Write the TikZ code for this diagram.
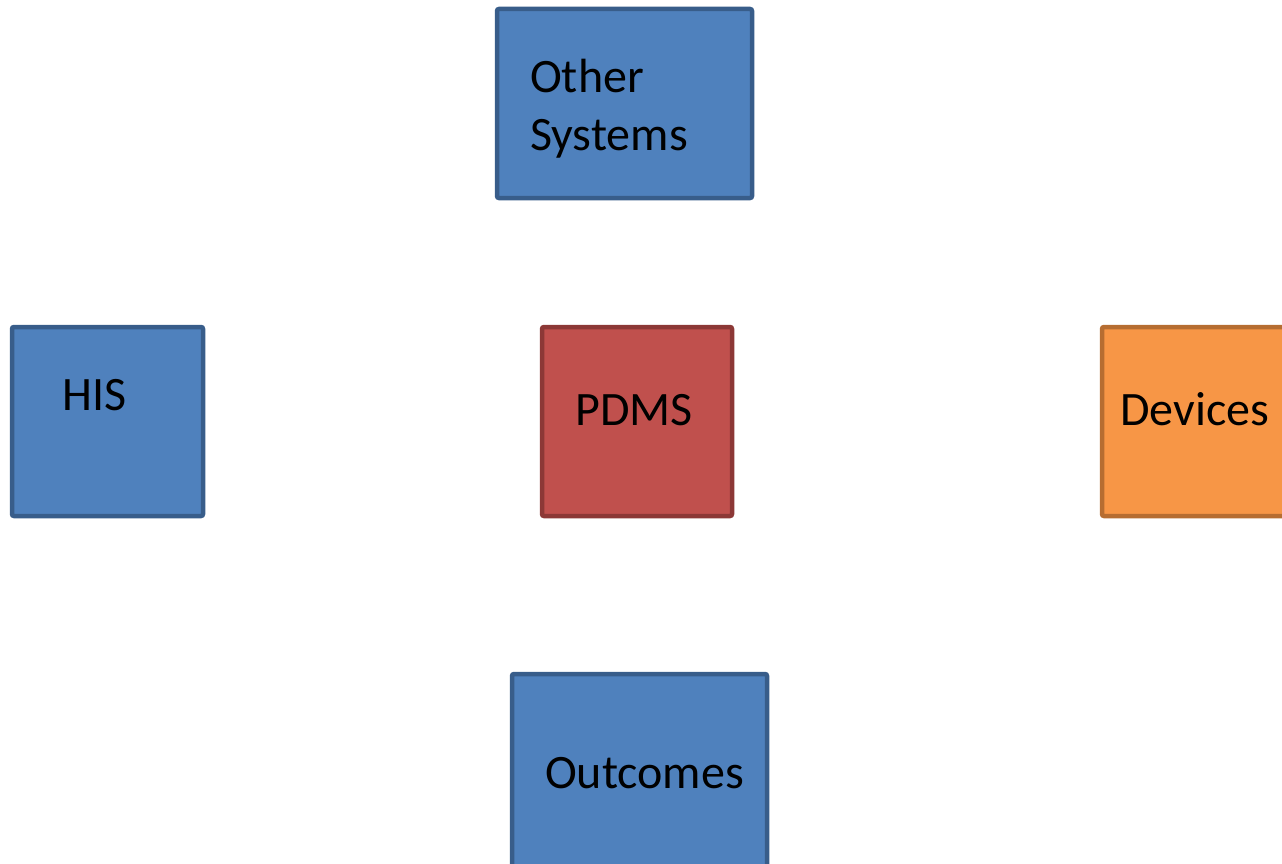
\documentclass[tikz,border=0pt]{standalone}
\usepackage{fontspec}
\setmainfont{Carlito}
\definecolor{bluefill}{HTML}{4F81BD}
\definecolor{blueline}{HTML}{385D8A}
\definecolor{redfill}{HTML}{C0504D}
\definecolor{redline}{HTML}{8C3836}
\definecolor{orangefill}{HTML}{F79646}
\definecolor{orangeline}{HTML}{B66D31}
\tikzset{
  box/.style={rectangle, line width=4.5pt, rounded corners=2pt, inner sep=0pt},
  bluebox/.style={box, draw=blueline, fill=bluefill},
  redbox/.style={box, draw=redline, fill=redfill},
  orangebox/.style={box, draw=orangeline, fill=orangefill},
  lbl/.style={inner sep=0pt, anchor=base west, font=\fontsize{48}{57}\selectfont, text=black, align=left}
}
\begin{document}
\begin{tikzpicture}[x=1pt,y=-1pt]
\useasboundingbox (0,0) rectangle (1282,864);
\clip (0,0) rectangle (1282,864);
\node[bluebox, minimum width=255pt, minimum height=189pt] (other) at (624.5,103.5) {};
\node[bluebox, minimum width=191pt, minimum height=189pt] (his) at (107.5,421.5) {};
\node[redbox, minimum width=190pt, minimum height=189pt] (pdms) at (637,421.5) {};
\node[orangebox, minimum width=191pt, minimum height=189pt] (dev) at (1197.5,421.5) {};
\node[bluebox, minimum width=255pt, minimum height=194pt] (out) at (639.5,771) {};
\node[lbl] (otherA) at (530,93) {Other};
\node[lbl] (otherB) at (530,150) {Systems};
\node[lbl] (hisl) at (62,410) {HIS};
\node[lbl, anchor=base] (pdmsl) at (634,425) {PDMS};
\node[lbl] (devl) at (1120,425) {Devices};
\node[lbl] (outl) at (545,788) {Outcomes};
\end{tikzpicture}
\end{document}
